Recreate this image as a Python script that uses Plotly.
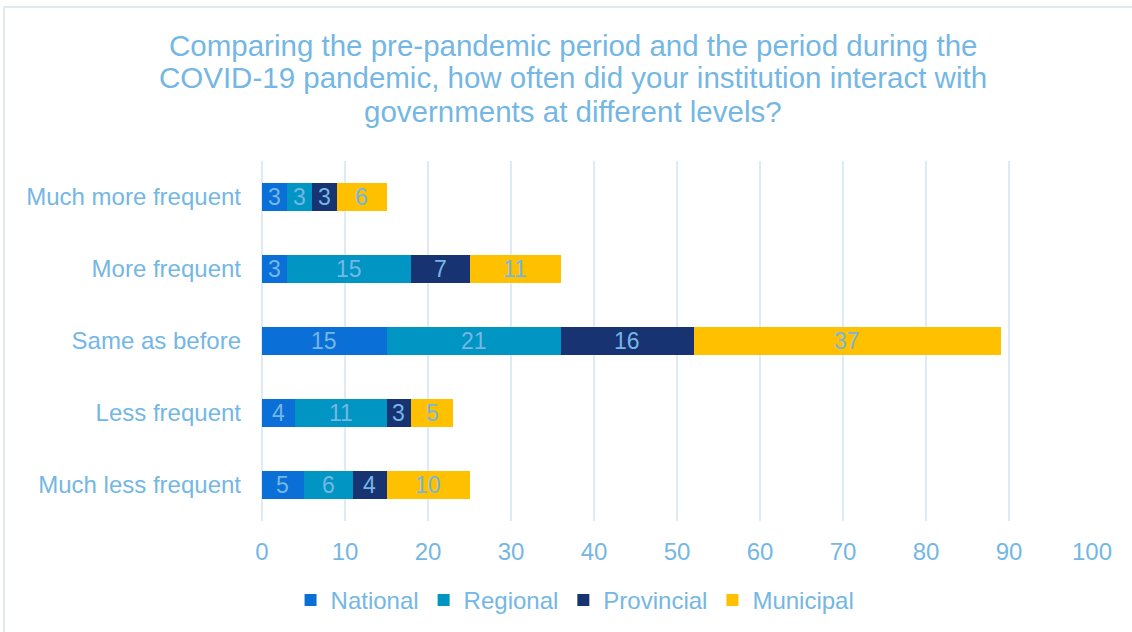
import plotly.graph_objects as go

categories = ["Much more frequent", "More frequent", "Same as before", "Less frequent", "Much less frequent"]
national = [3, 3, 15, 4, 5]
regional = [3, 15, 21, 11, 6]
provincial = [3, 7, 16, 3, 4]
municipal = [6, 11, 37, 5, 10]
series = [("National", national, "#0A6FD6"), ("Regional", regional, "#0095C2"),
          ("Provincial", provincial, "#173371"), ("Municipal", municipal, "#FFC000")]
x_ticks = list(range(0, 101, 10))
title_lines = ["Comparing the pre-pandemic period and the period during the",
               "COVID-19 pandemic, how often did your institution interact with",
               "governments at different levels?"]

txt = "#74B7E4"
font_family = "Liberation Sans, Arial, sans-serif"

fig = go.Figure()
cum = [0] * len(categories)
for name, vals, col in series:
    fig.add_trace(go.Bar(
        y=categories, x=vals, name=name, orientation="h",
        marker=dict(color=col, line=dict(width=0)),
    ))
    for i, (c, v) in enumerate(zip(categories, vals)):
        fig.add_annotation(x=cum[i] + v / 2, y=c, xref="x", yref="y", text=str(v), showarrow=False,
                           font=dict(size=23, color=txt, family=font_family), xanchor="center", yanchor="middle")
        cum[i] += v

for k, line in enumerate(title_lines):
    fig.add_annotation(text=line, xref="paper", yref="paper", x=(573 - 262) / 830,
                       y=(521 - (45 + 33 * k)) / 360, xanchor="center", yanchor="middle", showarrow=False,
                       font=dict(size=29.5, color=txt, family=font_family))

fig.update_layout(
    barmode="stack", bargap=0.61,
    width=1132, height=632,
    margin=dict(l=262, r=40, t=161, b=111),
    paper_bgcolor="white", plot_bgcolor="white",
    font=dict(family=font_family, color=txt, size=24),
    xaxis=dict(range=[0, 100], tickvals=x_ticks, showgrid=True, gridcolor="#DDEBF7", gridwidth=2,
               zeroline=True, zerolinecolor="#DDEBF7", zerolinewidth=2, ticks="", ticklabelstandoff=14,
               tickfont=dict(size=24, color=txt), showline=False),
    yaxis=dict(categoryorder="array", categoryarray=categories, autorange="reversed",
               ticks="", ticklabelstandoff=20, tickfont=dict(size=24, color=txt), showgrid=False),
    legend=dict(orientation="h", x=0.508, xref="container", xanchor="center", y=0.05, yref="container", yanchor="middle",
                font=dict(size=24, color=txt), itemwidth=30, traceorder="normal"),
    showlegend=True,
)
fig.add_shape(type="rect", xref="paper", yref="paper", x0=-0.3108, x1=1.2, y0=-0.6, y1=1.4278,
              line=dict(color="#D9E4EC", width=1.5), fillcolor="rgba(0,0,0,0)", layer="below")
fig.write_html("out.html")
